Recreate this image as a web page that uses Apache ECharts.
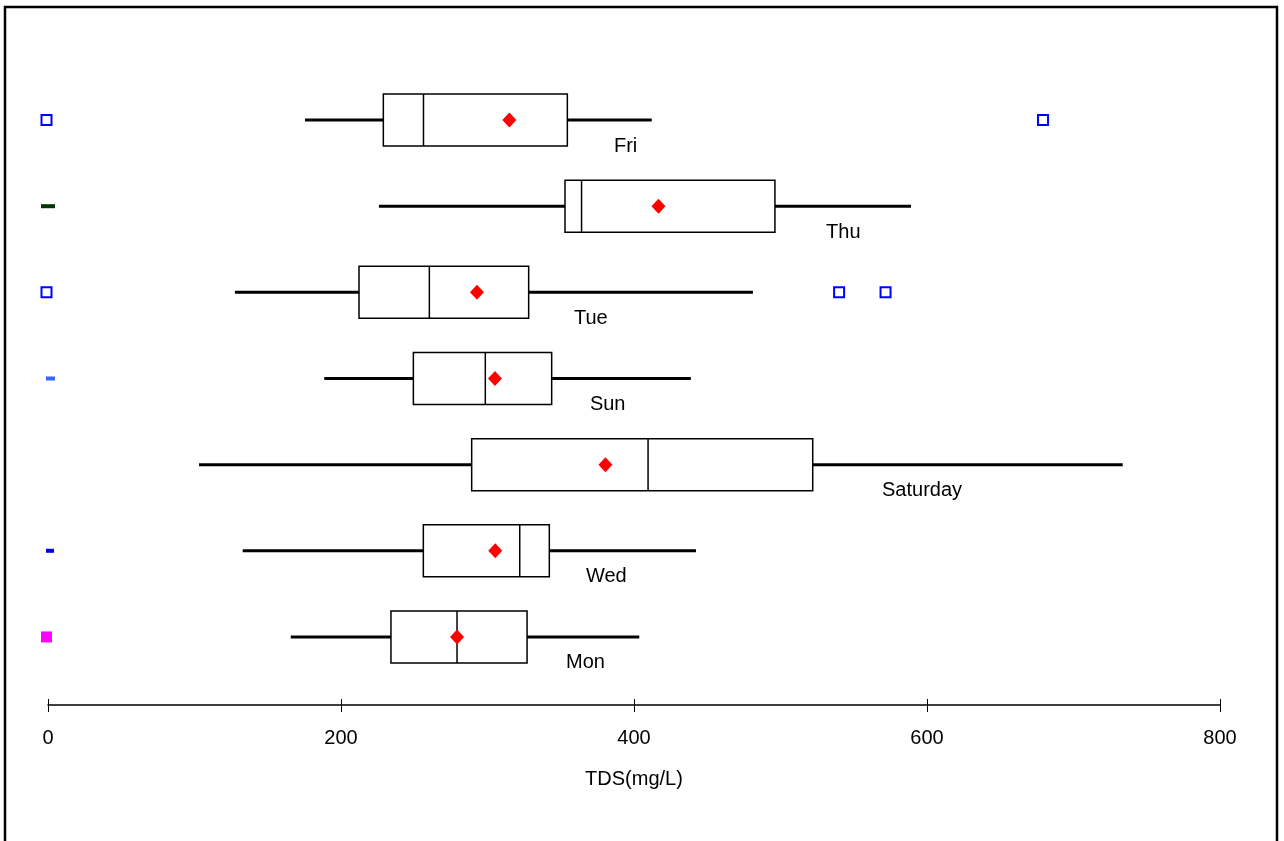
<!DOCTYPE html>
<html>
<head>
<meta charset="utf-8">
<title>TDS by day</title>
<script src="https://cdn.jsdelivr.net/npm/echarts@6/dist/echarts.min.js"></script>
<style>
  html, body { margin: 0; padding: 0; background: #fff; }
  #chart { width: 1284px; height: 841px; }
</style>
</head>
<body>
<div id="chart"></div>
<script>
// Days, bottom row first (category axis grows upward)
const days = ['Mon', 'Wed', 'Saturday', 'Sun', 'Tue', 'Thu', 'Fri'];

// Five-number summaries of TDS (mg/L) per day
const whiskerLow  = [165.7, 132.9, 103.1, 188.6, 127.6, 225.9, 175.4];
const q1          = [234.1, 256.2, 289.2, 249.4, 212.3, 352.9, 228.9];
const median      = [279.2, 322.0, 409.6, 298.5, 260.3, 364.2, 256.3];
const q3          = [327.0, 342.2, 522.0, 343.8, 328.1, 496.2, 354.5];
const whiskerHigh = [403.6, 442.3, 733.6, 438.8, 481.2, 589.1, 412.1];

// Mean TDS per day
const means = [279.2, 305.3, 380.5, 305.1, 292.8, 416.7, 314.9];

// Outlying readings [day, TDS]
const outliers = [['Tue', 540.0], ['Tue', 571.7], ['Fri', 679.2]];

// Days with a zero reading
const zeroDays = ['Fri', 'Thu', 'Tue', 'Sun', 'Wed', 'Mon'];
const zeroValue = 0;

// Where each day's name sits along the TDS axis
const labelAnchor = [353.6, 367.2, 569.3, 369.9, 359.0, 531.1, 386.3];

// TDS axis ticks
const xTicks = [0, 200, 400, 600, 800];

const FONT = '"Liberation Sans", Arial, sans-serif';

// Marker look for each day's zero reading
const openSquare = { color: '#fff', borderColor: '#0000ff', borderWidth: 2, opacity: 1 };
const zeroStyle = {
  Fri: { symbol: 'rect', symbolSize: 10, itemStyle: openSquare, symbolOffset: [-1.5, 0] },
  Tue: { symbol: 'rect', symbolSize: 10, itemStyle: openSquare, symbolOffset: [-1.5, 0] },
  Thu: { symbol: 'rect', symbolSize: [14, 4], itemStyle: { color: '#003300', opacity: 1 } },
  Sun: { symbol: 'rect', symbolSize: [9, 4], itemStyle: { color: '#3366ff', opacity: 1 }, symbolOffset: [2.5, 0] },
  Wed: { symbol: 'rect', symbolSize: [8, 4], itemStyle: { color: '#0000ee', opacity: 1 }, symbolOffset: [2, 0] },
  Mon: { symbol: 'rect', symbolSize: 11, itemStyle: { color: '#ff00ff', opacity: 1 }, symbolOffset: [-1.5, 0] }
};

const boxData = days.map((d, i) => [i, whiskerLow[i], q1[i], median[i], q3[i], whiskerHigh[i], labelAnchor[i]]);

function renderBox(params, api) {
  const i = api.value(0);
  const pLo = api.coord([api.value(1), i]);
  const pQ1 = api.coord([api.value(2), i]);
  const pMed = api.coord([api.value(3), i]);
  const pQ3 = api.coord([api.value(4), i]);
  const pHi = api.coord([api.value(5), i]);
  const pLab = api.coord([api.value(6), i]);
  const y = pLo[1];
  const half = 26;
  const thin = { stroke: '#000', lineWidth: 1.5 };
  const thick = { stroke: '#000', lineWidth: 3 };
  return {
    type: 'group',
    children: [
      { type: 'line', shape: { x1: pLo[0], y1: y, x2: pQ1[0], y2: y }, style: thick },
      { type: 'line', shape: { x1: pQ3[0], y1: y, x2: pHi[0], y2: y }, style: thick },
      { type: 'rect', shape: { x: pQ1[0], y: y - half, width: pQ3[0] - pQ1[0], height: half * 2 }, style: Object.assign({ fill: 'rgba(255,255,255,0)' }, thin) },
      { type: 'line', shape: { x1: pMed[0], y1: y - half, x2: pMed[0], y2: y + half }, style: thin },
      { type: 'text', x: pLab[0], y: y + half, style: { text: days[i], font: '20px ' + FONT, fill: '#000', align: 'left', verticalAlign: 'middle' } }
    ]
  };
}

const axisBase = {
  type: 'value',
  position: 'bottom',
  min: xTicks[0],
  max: xTicks[xTicks.length - 1],
  interval: xTicks[1] - xTicks[0],
  offset: 25,
  splitLine: { show: false }
};

const chart = echarts.init(document.getElementById('chart'), null, { renderer: 'canvas' });
chart.setOption({
  animation: false,
  backgroundColor: '#fff',
  grid: { left: 48, right: 64, top: 77, bottom: 161, containLabel: false },
  xAxis: [
    Object.assign({}, axisBase, {
      name: 'TDS(mg/L)',
      nameLocation: 'middle',
      nameGap: 64,
      nameTextStyle: { color: '#000', fontSize: 20, fontFamily: FONT },
      axisLine: { show: true, lineStyle: { color: '#000', width: 1.5 } },
      axisTick: { show: true, inside: false, length: 7, lineStyle: { color: '#000', width: 1 } },
      axisLabel: { color: '#000', fontSize: 20, fontFamily: FONT, margin: 23 }
    }),
    Object.assign({}, axisBase, {
      axisLine: { show: false },
      axisTick: { show: true, inside: true, length: 6, lineStyle: { color: '#000', width: 1 } },
      axisLabel: { show: false }
    })
  ],
  yAxis: {
    type: 'category',
    data: days,
    show: false
  },
  graphic: [
    { type: 'rect', shape: { x: 5, y: 7, width: 1272, height: 900 }, style: { fill: null, stroke: '#000', lineWidth: 2.5 }, z: 100 }
  ],
  series: [
    {
      type: 'custom',
      renderItem: renderBox,
      encode: { x: [1, 2, 3, 4, 5], y: 0 },
      data: boxData,
      z: 2
    },
    {
      type: 'scatter',
      symbol: 'diamond',
      symbolSize: [14, 15],
      itemStyle: { color: '#ff0000', opacity: 1 },
      data: means.map((m, i) => [m, days[i]]),
      z: 5
    },
    {
      type: 'scatter',
      symbol: 'rect',
      symbolSize: 10,
      itemStyle: openSquare,
      data: outliers.map(o => [o[1], o[0]]),
      z: 5
    },
    {
      type: 'scatter',
      itemStyle: { opacity: 1 },
      data: zeroDays.map(d => Object.assign({ value: [zeroValue, d] }, zeroStyle[d])),
      z: 5
    }
  ]
});
</script>
</body>
</html>
